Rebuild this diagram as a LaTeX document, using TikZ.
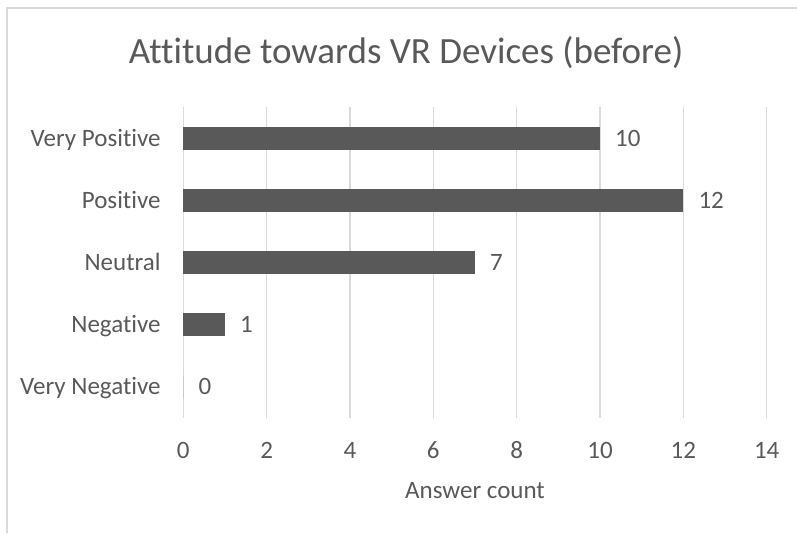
\documentclass[tikz,border=0pt]{standalone}
\usepackage{fontspec}
\setmainfont[Ligatures=NoCommon]{Carlito}
\definecolor{bargray}{HTML}{595959}
\definecolor{gridgray}{HTML}{D9D9D9}
\begin{document}
\begin{tikzpicture}[x=1pt,y=-1pt,
    chartfont/.style={font=\fontsize{25}{30}\selectfont, text=bargray,
      inner sep=0pt, text height=16pt, text depth=0pt},
    catlabel/.style={chartfont, anchor=east},
    vallabel/.style={chartfont, anchor=west, xshift=15pt},
    ticklabel/.style={chartfont, anchor=center},
    gridline/.style={draw=gridgray, line width=1.3pt},
    bar/.style={fill=bargray}]
  \useasboundingbox (0,0) rectangle (797,533);
  % chart frame (only top and left edges show)
  \draw[gridgray, line width=1.5pt] (7,533) -- (7,8) -- (797,8);
  \node[font=\fontsize{37}{44}\selectfont, text=bargray] (title) at (406,53)
    {Attitude towards VR Devices (before)};
  \begin{scope}[shift={(183.3pt,-107pt)}, x=41.67pt, y=-62.2pt]
    \foreach \v in {0,2,...,14} {
      \draw[gridline] (\v,0) -- (\v,5);
      \node[ticklabel] (tick\v) at (\v,5.52) {\v};
    }
    \foreach \val/\cat [count=\i] in {10/Very Positive, 12/Positive,
        7/Neutral, 1/Negative, 0/Very Negative} {
      \fill[bar] (0,\i-0.5-0.185) rectangle (\val,\i-0.5+0.185);
      \node[catlabel] (cat\i) at (-0.54,\i-0.5) {\cat};
      \node[vallabel] (val\i) at (\val,\i-0.5) {\val};
    }
    \node[chartfont, anchor=center] (axistitle) at (7,6.16) {Answer count};
  \end{scope}
\end{tikzpicture}
\end{document}
